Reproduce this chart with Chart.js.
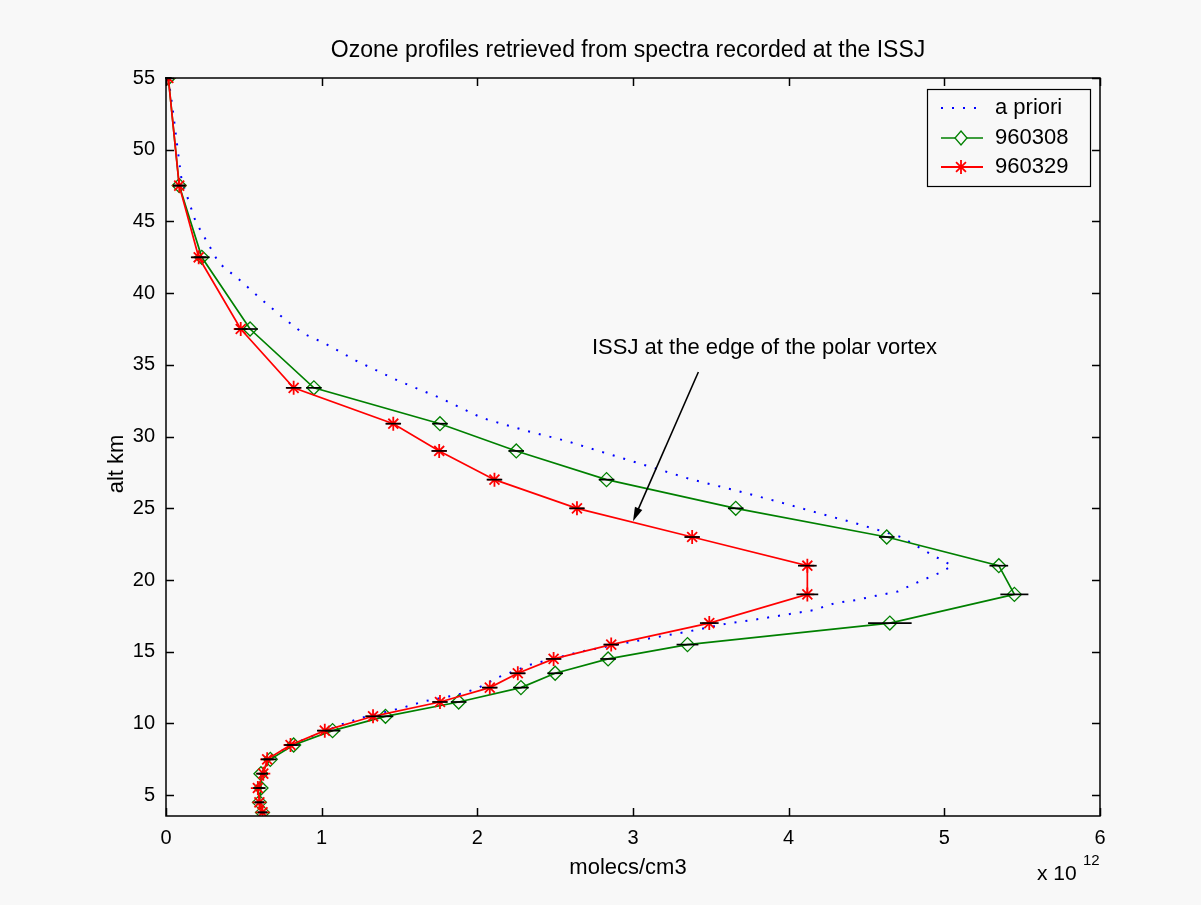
<!DOCTYPE html>
<html>
<head>
<meta charset="utf-8">
<title>Ozone profiles</title>
<script src="https://cdn.jsdelivr.net/npm/chart.js@4.4.0/dist/chart.umd.min.js"></script>
<style>
  html, body { margin: 0; padding: 0; background: #f8f8f8; }
  #wrap { width: 1201px; height: 905px; }
</style>
</head>
<body>
<div id="wrap"><canvas id="ozone" width="1201" height="905"></canvas></div>
<script>
// retrieval altitude grid (km)
const altitudes = [55, 47.5, 42.5, 37.5, 33.4, 30.9, 29, 27, 25, 23, 21, 19, 17, 15.5, 14.5, 13.5, 12.5, 11.5, 10.5, 9.5, 8.5, 7.5, 6.5, 5.5, 4.5, 3.8];

// number densities in units of 1e12 molecules/cm3
const ozone960308 = [0.015, 0.085, 0.23, 0.54, 0.95, 1.76, 2.25, 2.83, 3.66, 4.63, 5.35, 5.45, 4.65, 3.35, 2.84, 2.50, 2.28, 1.88, 1.41, 1.07, 0.82, 0.67, 0.61, 0.61, 0.60, 0.62];
const ozone960329 = [0.015, 0.085, 0.21, 0.48, 0.82, 1.46, 1.755, 2.11, 2.64, 3.38, 4.12, 4.12, 3.49, 2.86, 2.49, 2.26, 2.08, 1.76, 1.33, 1.02, 0.80, 0.65, 0.625, 0.59, 0.60, 0.62];

// half widths of the error bars, same units
const err960308 = [0.02, 0.04, 0.05, 0.05, 0.05, 0.05, 0.05, 0.05, 0.05, 0.05, 0.06, 0.09, 0.14, 0.07, 0.05, 0.05, 0.05, 0.05, 0.05, 0.05, 0.04, 0.04, 0.03, 0.03, 0.03, 0.03];
const err960329 = [0.02, 0.04, 0.05, 0.04, 0.05, 0.05, 0.05, 0.05, 0.05, 0.05, 0.06, 0.07, 0.06, 0.05, 0.05, 0.05, 0.05, 0.05, 0.05, 0.05, 0.04, 0.04, 0.03, 0.03, 0.03, 0.03];

// a priori profile
const aprioriAlt = [55, 53.1, 50.2, 47.9, 45, 42.1, 40.9, 39.6, 38.3, 37.2, 36.5, 35.3, 33.9, 32.7, 31.3, 30.45, 29.7, 28.8, 27.9, 27, 26.3, 25.5, 24.7, 23.9, 23, 21.7, 21, 20.5, 19.9, 19.2, 18.9, 18.6, 18.4, 17.9, 17.2, 17, 16.4, 16, 15, 14.1, 13.2, 12.44, 12, 11.55, 11.1, 10.4, 9.95, 9.5, 8.5, 7.5, 6.5, 5.5, 4.5, 3.8];
const aprioriVal = [0.015, 0.04, 0.073, 0.10, 0.19, 0.34, 0.475, 0.61, 0.75, 0.88, 1.02, 1.22, 1.49, 1.76, 2.03, 2.30, 2.57, 2.84, 3.11, 3.38, 3.64, 3.92, 4.18, 4.45, 4.72, 4.93, 5.05, 4.97, 4.84, 4.70, 4.56, 4.43, 4.30, 4.16, 3.76, 3.62, 3.35, 3.14, 2.66, 2.34, 2.13, 2.0, 1.87, 1.66, 1.52, 1.26, 1.13, 1.03, 0.80, 0.66, 0.62, 0.60, 0.60, 0.61];

const xTicks = [0, 1, 2, 3, 4, 5, 6];
const yTicks = [5, 10, 15, 20, 25, 30, 35, 40, 45, 50, 55];

const FONT = '"Liberation Sans", Arial, Helvetica, sans-serif';
const GREEN = '#008000';
const RED = '#ff0000';
const BLUE = '#0000ff';
const BG = '#f8f8f8';

const toPoints = (xs, ys) => xs.map((v, i) => ({ x: v, y: ys[i] }));

// frame, inner ticks, error bars, annotation and legend drawn on top of the chart
const matlabLook = {
  id: 'matlabLook',
  afterDatasetsDraw(chart) {
    const { ctx, scales: { x, y } } = chart;
    ctx.save();
    ctx.strokeStyle = '#000';
    ctx.lineWidth = 1.7;
    [[ozone960308, err960308], [ozone960329, err960329]].forEach(([vals, errs]) => {
      vals.forEach((v, i) => {
        const py = y.getPixelForValue(altitudes[i]);
        ctx.beginPath();
        ctx.moveTo(x.getPixelForValue(v - errs[i]), py);
        ctx.lineTo(x.getPixelForValue(v + errs[i]), py);
        ctx.stroke();
      });
    });
    ctx.restore();
  },
  afterDraw(chart) {
    const { ctx, chartArea: a, scales: { x, y } } = chart;
    ctx.save();

    // box and inward tick marks
    ctx.strokeStyle = '#000';
    ctx.lineWidth = 1.5;
    ctx.strokeRect(a.left, a.top, a.right - a.left, a.bottom - a.top);
    const tl = 8;
    ctx.beginPath();
    xTicks.forEach(v => {
      const px = Math.round(x.getPixelForValue(v)) + 0.5;
      ctx.moveTo(px, a.bottom); ctx.lineTo(px, a.bottom - tl);
      ctx.moveTo(px, a.top); ctx.lineTo(px, a.top + tl);
    });
    yTicks.forEach(v => {
      const py = Math.round(y.getPixelForValue(v)) + 0.5;
      ctx.moveTo(a.left, py); ctx.lineTo(a.left + tl, py);
      ctx.moveTo(a.right, py); ctx.lineTo(a.right - tl, py);
    });
    ctx.stroke();

    // title and axis labels
    ctx.fillStyle = '#000';
    ctx.font = '23px ' + FONT;
    ctx.textAlign = 'center';
    ctx.textBaseline = 'middle';
    ctx.fillText('Ozone profiles retrieved from spectra recorded at the ISSJ', 628, 51);
    ctx.font = '22px ' + FONT;
    ctx.fillText('molecs/cm3', 628, 868);
    ctx.save();
    ctx.translate(117, 464);
    ctx.rotate(-Math.PI / 2);
    ctx.fillText('alt km', 0, 0);
    ctx.restore();

    // x10^12 multiplier
    ctx.textAlign = 'left';
    ctx.textBaseline = 'alphabetic';
    ctx.font = '21px ' + FONT;
    ctx.fillText('x 10', 1037, 880);
    ctx.font = '15px ' + FONT;
    ctx.fillText('12', 1083, 865);

    // annotation with arrow
    ctx.font = '22px ' + FONT;
    ctx.textBaseline = 'middle';
    ctx.fillText('ISSJ at the edge of the polar vortex', 592, 348);
    const x0 = x.getPixelForValue(3.42), y0 = y.getPixelForValue(34.5);
    const x1 = x.getPixelForValue(3.0), y1 = y.getPixelForValue(24.1);
    const ang = Math.atan2(y1 - y0, x1 - x0);
    ctx.lineWidth = 1.6;
    ctx.beginPath();
    ctx.moveTo(x0, y0);
    ctx.lineTo(x1 - 10 * Math.cos(ang), y1 - 10 * Math.sin(ang));
    ctx.stroke();
    ctx.beginPath();
    ctx.moveTo(x1, y1);
    ctx.lineTo(x1 - 14 * Math.cos(ang) + 4 * Math.sin(ang), y1 - 14 * Math.sin(ang) - 4 * Math.cos(ang));
    ctx.lineTo(x1 - 14 * Math.cos(ang) - 4 * Math.sin(ang), y1 - 14 * Math.sin(ang) + 4 * Math.cos(ang));
    ctx.closePath();
    ctx.fill();

    // legend box
    const lx = 927, ly = 89, lw = 163, lh = 97;
    ctx.fillStyle = BG;
    ctx.fillRect(lx, ly, lw, lh);
    ctx.strokeStyle = '#000';
    ctx.lineWidth = 1.2;
    ctx.strokeRect(lx + 0.5, ly + 0.5, lw, lh);
    const rows = [
      { label: 'a priori', y: 108 },
      { label: '960308', y: 138 },
      { label: '960329', y: 167 }
    ];
    // dotted sample
    ctx.fillStyle = BLUE;
    for (let px = 941; px <= 976; px += 11) ctx.fillRect(px, rows[0].y - 1, 2, 2);
    // green sample
    ctx.strokeStyle = GREEN;
    ctx.lineWidth = 1.6;
    ctx.beginPath(); ctx.moveTo(941, rows[1].y); ctx.lineTo(983, rows[1].y); ctx.stroke();
    ctx.fillStyle = BG;
    ctx.lineWidth = 1.3;
    ctx.beginPath();
    ctx.moveTo(961, rows[1].y - 7); ctx.lineTo(967, rows[1].y);
    ctx.lineTo(961, rows[1].y + 7); ctx.lineTo(955, rows[1].y); ctx.closePath();
    ctx.fill(); ctx.stroke();
    // red sample
    ctx.strokeStyle = RED;
    ctx.lineWidth = 1.8;
    ctx.beginPath(); ctx.moveTo(941, rows[2].y); ctx.lineTo(983, rows[2].y); ctx.stroke();
    ctx.beginPath();
    for (let k = 0; k < 4; k++) {
      const t = k * Math.PI / 4;
      ctx.moveTo(961 - 7 * Math.cos(t), rows[2].y - 7 * Math.sin(t));
      ctx.lineTo(961 + 7 * Math.cos(t), rows[2].y + 7 * Math.sin(t));
    }
    ctx.stroke();
    ctx.fillStyle = '#000';
    ctx.font = '22px ' + FONT;
    ctx.textAlign = 'left';
    rows.forEach(r => ctx.fillText(r.label, 995, r.y));

    ctx.restore();
  }
};

new Chart(document.getElementById('ozone'), {
  type: 'scatter',
  data: {
    datasets: [
      {
        label: 'a priori',
        data: toPoints(aprioriVal, aprioriAlt),
        showLine: true,
        borderColor: BLUE,
        borderWidth: 2,
        borderDash: [2, 9],
        pointRadius: 0,
        tension: 0,
        order: 3
      },
      {
        label: '960308',
        data: toPoints(ozone960308, altitudes),
        showLine: true,
        borderColor: GREEN,
        borderWidth: 1.7,
        pointStyle: 'rectRot',
        pointRadius: 7,
        pointBorderWidth: 1.3,
        pointBorderColor: GREEN,
        pointBackgroundColor: 'rgba(0,0,0,0)',
        tension: 0,
        order: 2
      },
      {
        label: '960329',
        data: toPoints(ozone960329, altitudes),
        showLine: true,
        borderColor: RED,
        borderWidth: 1.7,
        pointStyle: 'star',
        pointRadius: 7,
        pointBorderWidth: 1.8,
        pointBorderColor: RED,
        pointBackgroundColor: RED,
        tension: 0,
        order: 1
      }
    ]
  },
  options: {
    responsive: false,
    animation: false,
    devicePixelRatio: 1,
    layout: { padding: { top: 78, right: 101, left: 0, bottom: 0 } },
    plugins: {
      legend: { display: false },
      tooltip: { enabled: false }
    },
    scales: {
      x: {
        type: 'linear',
        min: 0,
        max: 6,
        afterBuildTicks: s => { s.ticks = xTicks.map(v => ({ value: v })); },
        afterFit: s => { s.height = 89; },
        grid: { display: false, drawTicks: false },
        border: { display: false },
        ticks: { padding: 10, color: '#000', font: { family: FONT, size: 20 }, maxRotation: 0, autoSkip: false }
      },
      y: {
        type: 'linear',
        min: 3.55,
        max: 55,
        afterBuildTicks: s => { s.ticks = yTicks.map(v => ({ value: v })); },
        afterFit: s => { s.width = 166; },
        grid: { display: false, drawTicks: false },
        border: { display: false },
        ticks: { padding: 11, color: '#000', font: { family: FONT, size: 20 }, autoSkip: false }
      }
    }
  },
  plugins: [matlabLook]
});
</script>
</body>
</html>
